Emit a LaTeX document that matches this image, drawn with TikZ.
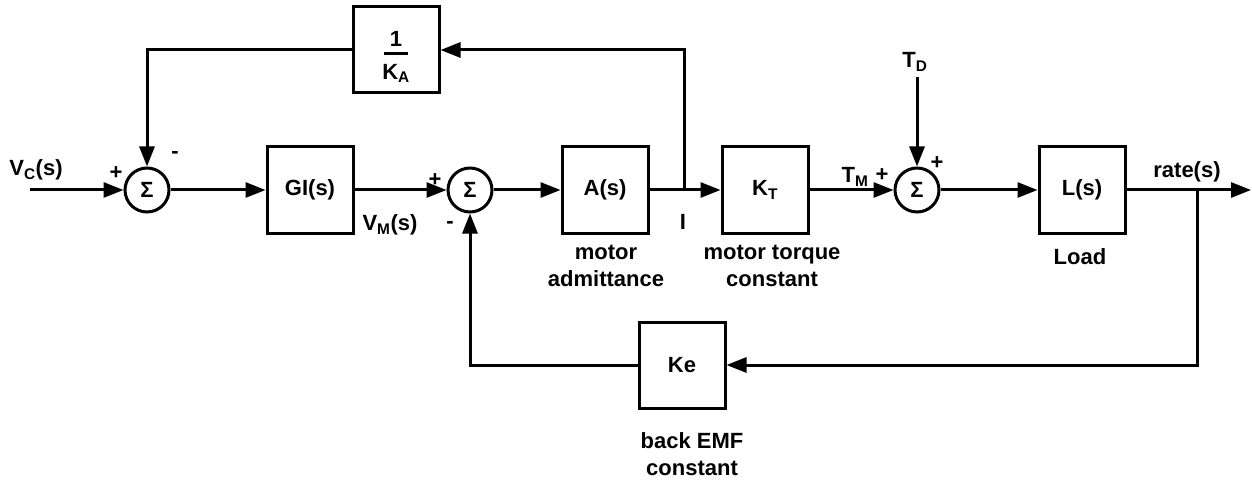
\documentclass[tikz,border=0pt]{standalone}
\usepackage{fontspec}
\setmainfont{Liberation Sans}
\usetikzlibrary{arrows.meta}
\begin{document}
\begin{tikzpicture}[x=1pt,y=-1pt,
  every node/.style={font=\fontsize{22}{27}\selectfont\bfseries},
  blk/.style={draw,line width=3pt,minimum width=86pt,minimum height=86pt,inner sep=0pt},
  sumnode/.style={draw,circle,line width=3pt,minimum size=44pt,inner sep=0pt,font=\fontsize{22}{24}\selectfont\bfseries},
  wire/.style={line width=3pt},
  arr/.style={wire,-{Triangle[length=20pt,width=15pt]}},
  lbl/.style={inner sep=0pt,align=center}]
\useasboundingbox (0,0) rectangle (1252,481);
% nodes
\node[sumnode] (s1) at (147,190) {Σ};
\node[blk] (gi) at (310,190) {GI(s)};
\node[sumnode] (s2) at (470,190) {Σ};
\node[blk] (as) at (605,190) {A(s)};
\node[blk] (kt) at (765,190) {K\textsubscript{T}};
\node[sumnode] (s3) at (917,190) {Σ};
\node[blk] (ls) at (1082,190) {L(s)};
\node[blk] (ka) at (396,50) {};
\node[lbl,font=\fontsize{22}{24}\selectfont\bfseries] (kafrac) at (396,57) {1\\[-15pt]\rule{24pt}{3pt}\\[0pt]K\textsubscript{A}};
\node[blk] (ke) at (682,365) {Ke};
% coordinates
\coordinate (vcin) at (30,190);
\coordinate (j1) at (684,190);
\coordinate (td) at (917,77);
\coordinate (j2) at (1197,190);
\coordinate (out) at (1251,190);
% connectors
\draw[arr] (vcin) -- (s1.west);
\draw[arr] (s1.east) -- (gi.west);
\draw[arr] (gi.east) -- (s2.west);
\draw[arr] (s2.east) -- (as.west);
\draw[arr] (as.east) -- (kt.west);
\draw[arr] (j1) |- (ka.east);
\draw[arr] (ka.west) -| (s1.north);
\draw[arr] (kt.east) -- (s3.west);
\draw[arr] (td) -- (s3.north);
\draw[arr] (s3.east) -- (ls.west);
\draw[arr] (ls.east) -- (out);
\draw[arr] (j2) |- (ke.east);
\draw[arr] (ke.west) -| (s2.south);
% labels
\node[lbl] (lvc) at (36,170) {V\textsubscript{C}(s)};
\node[lbl] (p1) at (116,173) {+};
\node[lbl] (m1) at (175,155) {-};
\node[lbl] (p2) at (435,180) {+};
\node[lbl] (lvm) at (390,225) {V\textsubscript{M}(s)};
\node[lbl] (m2) at (450,225) {-};
\node[lbl] (li) at (683,222) {I};
\node[lbl] (lma) at (606,266) {motor\\admittance};
\node[lbl] (lmt) at (772,266) {motor torque\\constant};
\node[lbl] (ltm) at (855,177) {T\textsubscript{M}};
\node[lbl] (p3) at (882,175) {+};
\node[lbl] (p4) at (937,163) {+};
\node[lbl] (ltd) at (915,62) {T\textsubscript{D}};
\node[lbl] (lrate) at (1187,172) {rate(s)};
\node[lbl] (lload) at (1080,257) {Load};
\node[lbl] (lemf) at (692,454) {back EMF\\constant};
\end{tikzpicture}
\end{document}
